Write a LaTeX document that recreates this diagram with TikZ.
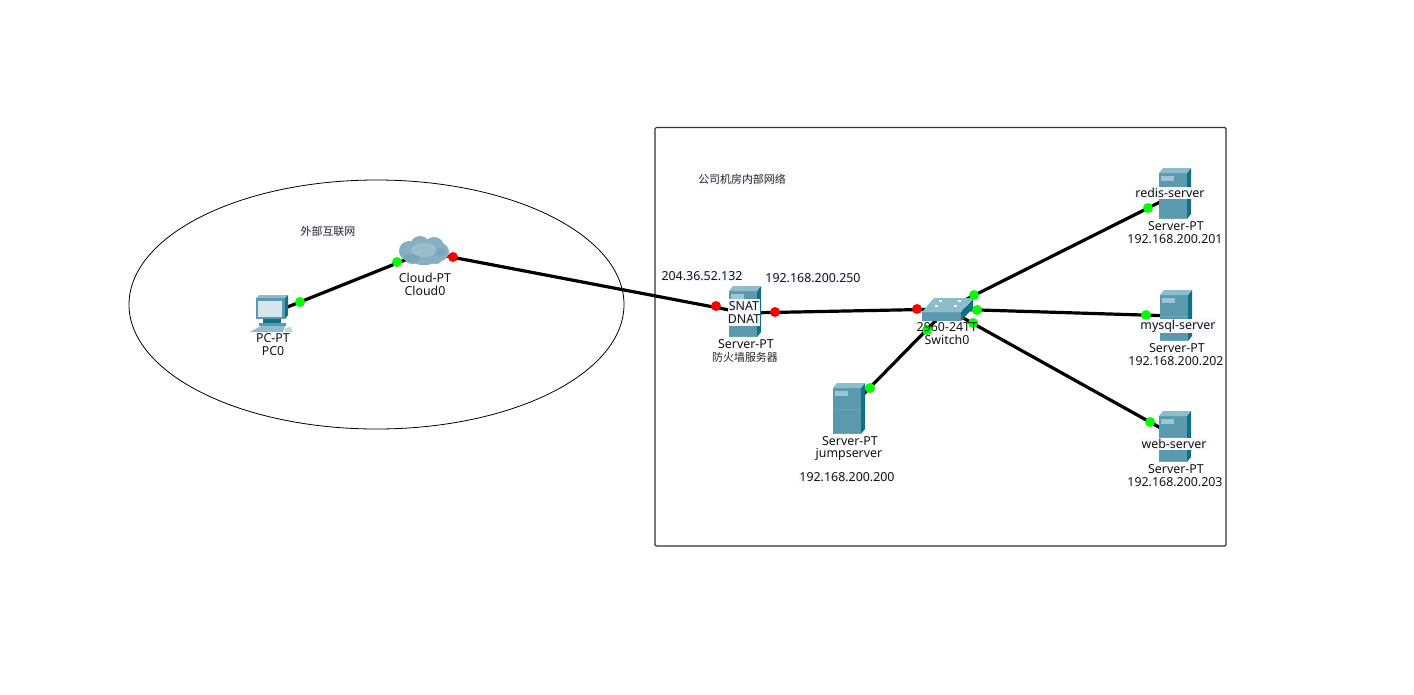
\documentclass[tikz,border=0pt]{standalone}
\usepackage{fontspec}
\setmainfont{Noto Sans}
\newfontfamily\cjkfont{Noto Sans CJK SC}
\definecolor{srvfront}{HTML}{5B9AAE}
\definecolor{srvside}{HTML}{0F7088}
\definecolor{srvtop}{HTML}{8DBCCB}
\definecolor{srvlight}{HTML}{9CC6D3}
\definecolor{srvline}{HTML}{6AA6B8}
\definecolor{labelbg}{HTML}{F6F8FE}
\definecolor{cloudfill}{HTML}{86AFC0}
\definecolor{dotgreen}{HTML}{00FF00}
\definecolor{dotred}{HTML}{FF0000}
\tikzset{
  x=0.75pt,y=-0.75pt,
  device/.style={rectangle,inner sep=0pt,minimum size=10pt},
  link/.style={line width=2.4pt,black},
  okdot/.style={circle,fill=dotgreen,inner sep=0pt,minimum size=7.5pt},
  baddot/.style={circle,fill=dotred,inner sep=0pt,minimum size=7.5pt},
  lbl/.style={inner sep=0.6pt,font=\fontsize{9.3}{11}\selectfont,text=black!92},
  lblbg/.style={lbl,fill=labelbg},
  natbg/.style={lbl,fill=labelbg,minimum width=24pt,minimum height=9.9pt,inner sep=0pt},
  cjklbl/.style={inner sep=0.6pt,font=\fontsize{8.2}{10}\cjkfont,text=black!85},
  cjkbg/.style={cjklbl,fill=labelbg},
}
% x of front left, y of front top, front width, front height
\newcommand{\srvicon}[4]{%
  \fill[srvfront] (#1,#2) rectangle ++(#3,#4);
  \fill[srvside] (#1+#3,#2) -- ++(4,-5) -- ++(0,#4) -- ++(-4,5) -- cycle;
  \fill[srvtop] (#1,#2) -- ++(4,-5) -- ++(#3,0) -- ++(-4,5) -- cycle;
  \fill[srvlight] (#1+2,#2+3) rectangle ++(13,5);
  \draw[srvline,line width=0.5pt] (#1,#2+21) -- ++(#3,0);
  \draw[srvline,line width=0.5pt] (#1,#2+#4-1) -- ++(#3,0);
}
\begin{document}
\begin{tikzpicture}
\useasboundingbox (0,0) rectangle (1414,694);
\fill[white] (0,0) rectangle (1414,694);
% regions
\draw[black,line width=0.6pt] (376.5,304.5) ellipse [x radius=247.5,y radius=124.5];
\draw[black!80,line width=0.9pt,rounded corners=1pt] (655,127.5) rectangle (1226,546);
% device anchors
\node[device] (pc) at (270,314) {};
\node[device] (cloud) at (425,252) {};
\node[device] (fw) at (745,313) {};
\node[device] (sw) at (947,309) {};
\node[device] (jump) at (847,411) {};
\node[device] (redis) at (1175,194.5) {};
\node[device] (mysql) at (1175,316) {};
\node[device] (web) at (1175,436) {};
% links
\draw[link] (pc.center) -- (cloud.center);
\draw[link] (cloud.center) -- (fw.center);
\draw[link] (fw.center) -- (sw.center);
\draw[link] (jump.center) -- (sw.center);
\draw[link] (sw.center) -- (redis.center);
\draw[link] (sw.center) -- (mysql.center);
\draw[link] (sw.center) -- (web.center);
% servers
\srvicon{729}{291}{28}{46}
\srvicon{833}{388}{28}{46}
\srvicon{1159}{173}{28}{46}
\srvicon{1160}{295}{28}{46}
\srvicon{1159}{416}{28}{46}
% switch
\fill[srvfront] (922,312) rectangle (961,321);
\fill[srvside] (961,312) -- (973,299) -- (973,308) -- (961,321) -- cycle;
\fill[srvtop] (922,312) -- (934,298) -- (973,298) -- (961,312) -- cycle;
\foreach \a/\b in {939/301,958/301,935/306,954/306}
  \draw[white!85!srvtop,line width=0.9pt] (\a,\b) -- ++(3,0);
% pc
\fill[srvtop] (256,298) -- (259,295) -- (288,295) -- (285,298) -- cycle;
\fill[srvside] (285,298) -- (288,295) -- (288,315) -- (285,319) -- cycle;
\fill[srvfront] (256,298) rectangle (285,319);
\fill[white!75!srvfront] (258,301) rectangle (282,317);
\fill[srvside] (263,319) rectangle (281,323);
\fill[srvfront] (259,323) rectangle (286,326);
\fill[srvtop] (250,332) -- (261,326) -- (285,326) -- (283,332) -- cycle;
\fill[srvlight!70!white] (285,328) -- (291,327) -- (293,332) -- (285,332) -- cycle;
% cloud
\fill[cloudfill] (409,251) circle [radius=10] (420,246) circle [radius=10]
  (434,247) circle [radius=10] (440,252) circle [radius=9]
  (424,257) ellipse [x radius=16,y radius=8] (412,256) circle [radius=8] (436,257) circle [radius=7];
\fill[white,opacity=0.18] (424,250) ellipse [x radius=13,y radius=7];
\fill[srvside,opacity=0.12] (412,258) ellipse [x radius=8,y radius=4];
\fill[srvside,opacity=0.12] (440,252) ellipse [x radius=6,y radius=4];
% link lights
\node[okdot] (d1) at (300,302) {};
\node[okdot] (d2) at (397,262) {};
\node[baddot] (d3) at (453,257) {};
\node[baddot] (d4) at (716,306) {};
\node[baddot] (d5) at (775,312) {};
\node[baddot] (d6) at (917,309) {};
\node[okdot] (d7) at (974,295) {};
\node[okdot] (d8) at (977,310) {};
\node[okdot] (d9) at (973,323) {};
\node[okdot] (d10) at (927,330) {};
\node[okdot] (d11) at (870,388) {};
\node[okdot] (d12) at (1148,208) {};
\node[okdot] (d13) at (1146,315) {};
\node[okdot] (d14) at (1150,422) {};
% labels
\node[lbl] (l1) at (273,338) {PC-PT};
\node[lbl] (l2) at (273,351) {PC0};
\node[lbl] (l3) at (425,278) {Cloud-PT};
\node[lbl] (l4) at (425,291) {Cloud0};
\node[cjkbg] (l5) at (328,231) {外部互联网};
\node[cjkbg] (l6) at (742,179) {公司机房内部网络};
\node[lblbg] (l7) at (702,276) {204.36.52.132};
\node[lblbg] (l8) at (813,278) {192.168.200.250};
\node[natbg] (l9) at (744,306) {SNAT};
\node[natbg] (l10) at (744,319) {DNAT};
\node[lbl] (l11) at (746,344) {Server-PT};
\node[cjklbl] (l12) at (745,357) {防火墙服务器};
\node[lbl] (l13) at (947,327) {2960-24TT};
\node[lbl] (l14) at (947,340) {Switch0};
\node[lbl] (l15) at (850,441) {Server-PT};
\node[lbl] (l16) at (849,454) {jumpserver};
\node[lblbg] (l17) at (847,477) {192.168.200.200};
\node[lblbg] (l18) at (1170,193) {redis-server};
\node[lbl] (l19) at (1176,226) {Server-PT};
\node[lbl] (l20) at (1175,239) {192.168.200.201};
\node[lblbg] (l21) at (1178,326) {mysql-server};
\node[lbl] (l22) at (1177,348) {Server-PT};
\node[lbl] (l23) at (1176,361) {192.168.200.202};
\node[lblbg] (l24) at (1174,444) {web-server};
\node[lbl] (l25) at (1176,469) {Server-PT};
\node[lbl] (l26) at (1175,482) {192.168.200.203};
\end{tikzpicture}
\end{document}
